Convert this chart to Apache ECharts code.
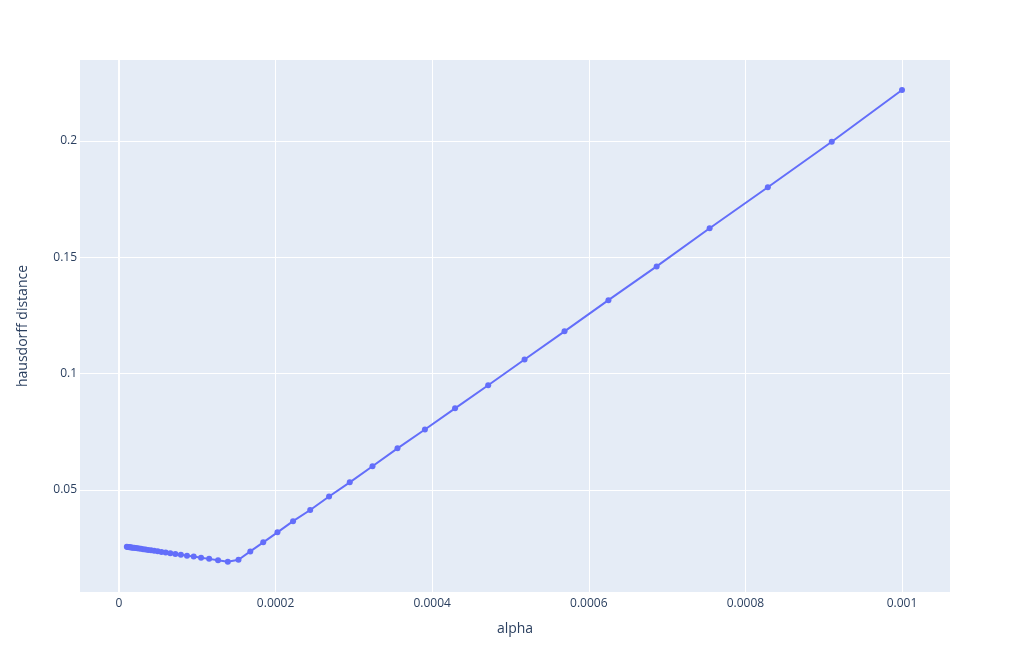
<!DOCTYPE html>
<html>
<head>
<meta charset="utf-8">
<script src="https://cdn.jsdelivr.net/npm/echarts@6/dist/echarts.min.js"></script>
<style>
html,body{margin:0;padding:0;background:#fff;}
#chart{width:1030px;height:672px;}
</style>
</head>
<body>
<div id="chart"></div>
<script>
const alphaValues = [
  1.0000e-5, 1.0985e-5, 1.2068e-5, 1.3257e-5, 1.4563e-5, 1.5999e-5, 1.7575e-5, 1.9307e-5, 2.1210e-5, 2.3300e-5,
  2.5595e-5, 2.8118e-5, 3.0888e-5, 3.3932e-5, 3.7276e-5, 4.0949e-5, 4.4984e-5, 4.9417e-5, 5.4287e-5, 5.9636e-5,
  6.5513e-5, 7.1969e-5, 7.9060e-5, 8.6851e-5, 9.5410e-5, 1.0481e-4, 1.1514e-4, 1.2649e-4, 1.3895e-4, 1.5264e-4,
  1.6768e-4, 1.8421e-4, 2.0236e-4, 2.2230e-4, 2.4421e-4, 2.6827e-4, 2.9471e-4, 3.2375e-4, 3.5565e-4, 3.9069e-4,
  4.2919e-4, 4.7149e-4, 5.1795e-4, 5.6899e-4, 6.2506e-4, 6.8665e-4, 7.5431e-4, 8.2864e-4, 9.1030e-4, 1.0000e-3
];
const hausdorffValues = [
  0.0256, 0.02555, 0.0255, 0.02544, 0.02537, 0.0253, 0.02522, 0.02514, 0.02504, 0.02494,
  0.02483, 0.0247, 0.02456, 0.02441, 0.02425, 0.02407, 0.02387, 0.02365, 0.0234, 0.02314,
  0.02285, 0.02253, 0.02218, 0.02179, 0.02137, 0.0209, 0.0204, 0.0198, 0.0192, 0.0200,
  0.0236, 0.0275, 0.0318, 0.0366, 0.0414, 0.0472, 0.0533, 0.0602, 0.0679, 0.0760,
  0.0851, 0.0950, 0.1061, 0.1182, 0.1316, 0.1461, 0.1625, 0.1801, 0.1997, 0.2219
];
const xTicks = [0, 0.0002, 0.0004, 0.0006, 0.0008, 0.001];
const xTickLabels = ['0', '0.0002', '0.0004', '0.0006', '0.0008', '0.001'];
const yTicks = [0.05, 0.1, 0.15, 0.2];
const yTickLabels = ['0.05', '0.1', '0.15', '0.2'];

const FONT = '"Open Sans", verdana, arial, sans-serif';
const TXT = '#2a3f5f';

const chart = echarts.init(document.getElementById('chart'), null, {renderer: 'canvas'});
const data = alphaValues.map((a, i) => [a, hausdorffValues[i]]);

chart.setOption({
  backgroundColor: '#fff',
  animation: false,
  grid: {left: 80, right: 80, top: 60, bottom: 80, containLabel: false,
         show: true, backgroundColor: '#E5ECF6', borderWidth: 0},
  xAxis: {
    type: 'value',
    min: -4.98e-5, max: 1.0613e-3,
    name: 'alpha', nameLocation: 'middle', nameGap: 30,
    nameTextStyle: {fontFamily: FONT, fontSize: 14, color: TXT},
    axisLine: {show: false},
    axisTick: {show: false, customValues: xTicks},
    axisLabel: {customValues: xTicks, fontFamily: FONT, fontSize: 12, color: TXT, margin: 6,
      formatter: v => { const i = xTicks.findIndex(t => Math.abs(t - v) < 1e-9); return i >= 0 ? xTickLabels[i] : ''; }},
    splitLine: {show: true, lineStyle: {color: '#fff', width: 1}}
  },
  yAxis: {
    type: 'value',
    min: 0.00616, max: 0.23481,
    name: 'hausdorff distance', nameLocation: 'middle', nameGap: 50, nameRotate: 90,
    nameTextStyle: {fontFamily: FONT, fontSize: 14, color: TXT},
    axisLine: {show: false},
    axisTick: {show: false, customValues: yTicks},
    axisLabel: {customValues: yTicks, fontFamily: FONT, fontSize: 12, color: TXT, margin: 3,
      formatter: v => { const i = yTicks.findIndex(t => Math.abs(t - v) < 1e-9); return i >= 0 ? yTickLabels[i] : ''; }},
    splitLine: {show: true, lineStyle: {color: '#fff', width: 1}}
  },
  series: [{
    type: 'line',
    data: data,
    symbol: 'circle',
    symbolSize: 6,
    showSymbol: true,
    lineStyle: {color: '#636efa', width: 2},
    itemStyle: {color: '#636efa'},
    markLine: {
      silent: true, symbol: 'none', label: {show: false},
      lineStyle: {color: '#fff', width: 2, type: 'solid'},
      data: [{xAxis: 0}],
      z: 0
    },
    z: 3
  }]
});
</script>
</body>
</html>
